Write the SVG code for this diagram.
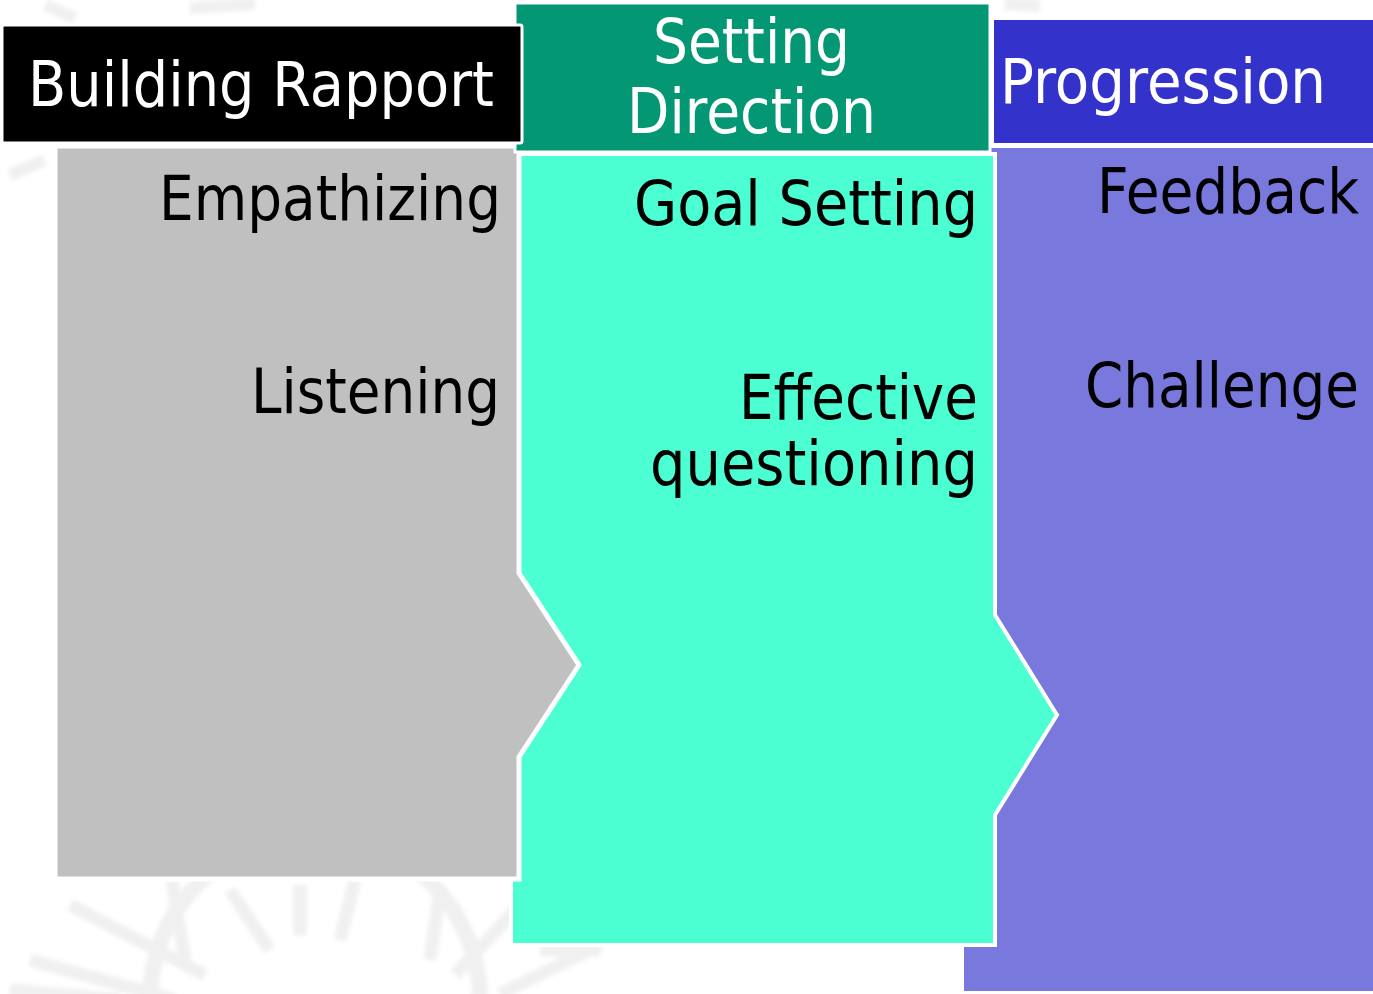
<svg xmlns="http://www.w3.org/2000/svg" width="1373" height="994" viewBox="0 0 1373 994">
  <style>
    .hdr { font-family: "DejaVu Sans", "Noto Sans", sans-serif; font-size: 62px; fill: #ffffff; }
    .item { font-family: "DejaVu Sans", "Noto Sans", sans-serif; font-size: 62px; fill: #000000; text-anchor: end; }
    .edge { stroke: #ffffff; stroke-linejoin: miter; }
    .mark { fill: none; stroke: #f0f0f0; stroke-linecap: butt; }
  </style>
  <defs>
    <filter id="soft" x="-10%" y="-10%" width="120%" height="120%">
      <feGaussianBlur stdDeviation="2"/>
    </filter>
  </defs>

  <rect width="1373" height="994" fill="#ffffff"/>

  <!-- faint background emblem -->
  <g id="watermark" class="mark" filter="url(#soft)">
    <path d="M 150 1000 A 165 165 0 0 1 480 1000" stroke-width="16"/>
    <path d="M 30 960 L 175 1000 M 70 905 L 205 975 M 172 880 L 185 960 M 230 890 L 270 950 M 300 885 L 300 935 M 355 880 L 340 940 M 440 890 L 430 960 M 520 905 L 455 975 M 600 945 L 500 994 M 540 950 L 600 950 M 10 990 L 120 1000" stroke-width="13"/>
    <path d="M 45 5 L 75 18 M 190 8 L 255 4 M 10 175 L 45 160 M 1005 4 L 1040 6" stroke-width="12"/>
  </g>

  <!-- Progression column body -->
  <g id="progression-body">
    <rect x="964" y="148" width="409" height="843" fill="#7878dd"/>
  </g>

  <!-- Setting Direction column body (chevron into Progression) -->
  <g id="direction-body">
    <polygon class="edge" stroke-width="4" fill="#4bffd2"
      points="511,154 995,154 995,615 1057,715 995,815 995,945 511,945"/>
  </g>

  <!-- Building Rapport column body (chevron into Setting Direction) -->
  <g id="rapport-body">
    <polygon class="edge" stroke-width="5" fill="#c0c0c0"
      points="55,146 519,146 519,573 579,665 519,757 519,879 55,879"/>
  </g>

  <!-- Column headers -->
  <g id="direction-header">
    <rect class="edge" stroke-width="3" x="515" y="3" width="475" height="149" fill="#039773"/>
    <text class="hdr" x="653" y="63" textLength="197" lengthAdjust="spacingAndGlyphs">Setting</text>
    <text class="hdr" x="627" y="133" textLength="249" lengthAdjust="spacingAndGlyphs">Direction</text>
  </g>
  <g id="rapport-header">
    <rect class="edge" stroke-width="3" x="2" y="25" width="520" height="118" rx="2" fill="#000000"/>
    <text class="hdr" x="28" y="106" font-size="64" textLength="466" lengthAdjust="spacingAndGlyphs">Building Rapport</text>
  </g>
  <g id="progression-header">
    <rect class="edge" stroke-width="2" x="993" y="19" width="382" height="125" fill="#3333cc"/>
    <text class="hdr" x="1000" y="103" textLength="326" lengthAdjust="spacingAndGlyphs">Progression</text>
  </g>

  <!-- Column items, right-aligned -->
  <g id="rapport-items">
    <text class="item" x="501" y="220" textLength="342" lengthAdjust="spacingAndGlyphs">Empathizing</text>
    <text class="item" x="500" y="413" textLength="249" lengthAdjust="spacingAndGlyphs">Listening</text>
  </g>
  <g id="direction-items">
    <text class="item" x="978" y="225" textLength="344" lengthAdjust="spacingAndGlyphs">Goal Setting</text>
    <text class="item" x="978" y="419" textLength="239" lengthAdjust="spacingAndGlyphs">Effective</text>
    <text class="item" x="978" y="485" textLength="328" lengthAdjust="spacingAndGlyphs">questioning</text>
  </g>
  <g id="progression-items">
    <text class="item" x="1359" y="213" textLength="262" lengthAdjust="spacingAndGlyphs">Feedback</text>
    <text class="item" x="1359" y="407" textLength="274" lengthAdjust="spacingAndGlyphs">Challenge</text>
  </g>

  <!-- connectors: none; columns abut via chevrons -->
  <g id="connectors"/>
</svg>
